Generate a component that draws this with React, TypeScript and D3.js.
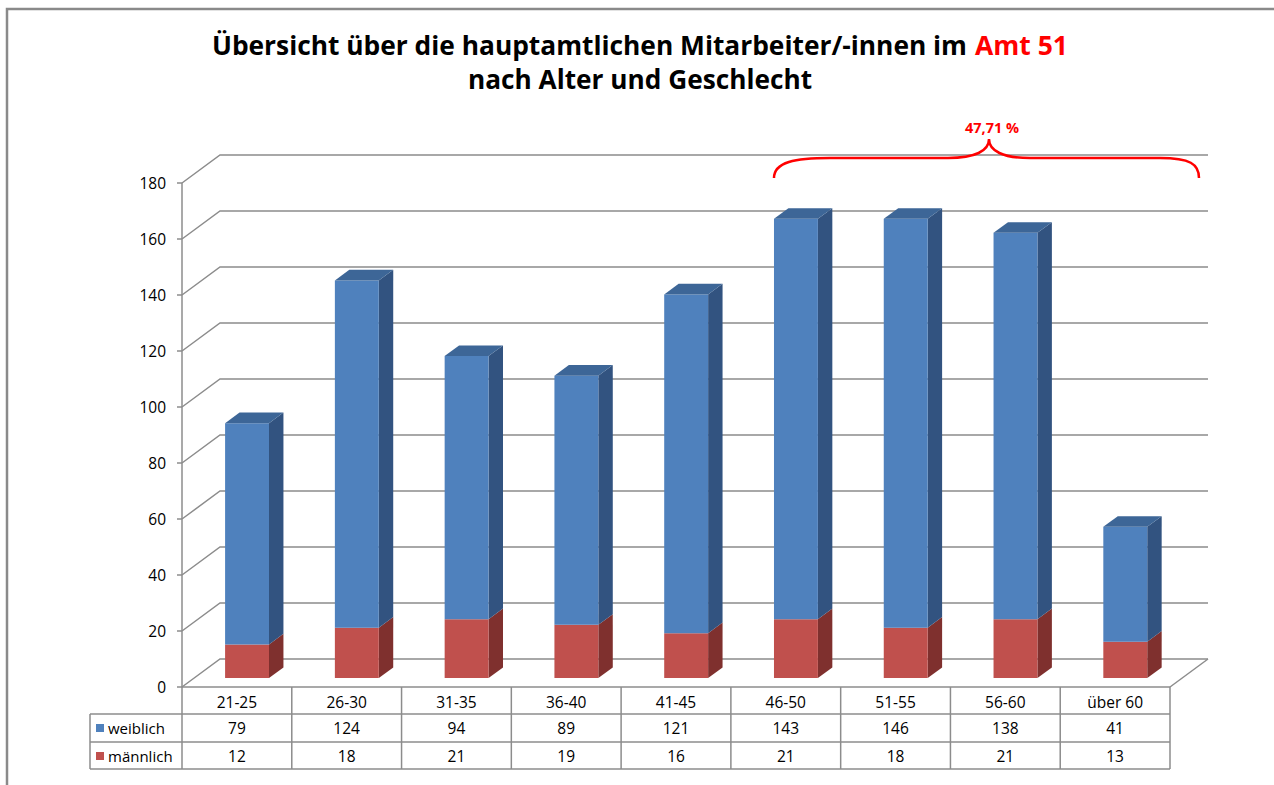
import { useLayoutEffect, useRef, useState } from 'react';
import * as d3 from 'd3';

const categories = ['21-25', '26-30', '31-35', '36-40', '41-45', '46-50', '51-55', '56-60', 'über 60'];
const weiblich = [79, 124, 94, 89, 121, 143, 146, 138, 41];
const maennlich = [12, 18, 21, 19, 16, 21, 18, 21, 13];
const yTicks = [0, 20, 40, 60, 80, 100, 120, 140, 160, 180];
const seriesNames = ['männlich', 'weiblich'];
const bracketLabel = '47,71 %';

const W = 1274;
const H = 785;
const font = '"Open Sans", "Liberation Sans", sans-serif';
const gridColor = '#8c8c8c';

// depth vector of the 3D box (full depth)
const DX = 38;
const DY = -28;
const zFront = 0.32;
const zBack = 0.7;

const colors = {
  männlich: { front: '#c0504d', side: '#7f302e', top: '#9a3d3a' },
  weiblich: { front: '#4f81bd', side: '#325380', top: '#3d6697' },
};

// title pieces: text, left x, baseline, target width, colour
const titleParts = [
  { text: 'Übersicht über die hauptamtlichen Mitarbeiter/-innen im', x: 212, y: 55, w: 755, fill: '#000' },
  { text: 'Amt 51', x: 975, y: 55, w: 93, fill: '#ff0000' },
  { text: 'nach Alter und Geschlecht', x: 468, y: 89, w: 344, fill: '#000' },
];

function Title() {
  const refs = useRef<(SVGTextElement | null)[]>([]);
  const [scales, setScales] = useState<number[]>(titleParts.map(() => 0.8));

  useLayoutEffect(() => {
    setScales(titleParts.map((p, i) => {
      const el = refs.current[i];
      const len = el ? el.getComputedTextLength() : 0;
      return len > 0 ? p.w / len : 0.8;
    }));
  }, []);

  return (
    <g>
      {titleParts.map((p, i) => (
        <g key={p.text} transform={`translate(${p.x},${p.y}) scale(${scales[i]},1)`}>
          <text
            ref={el => { refs.current[i] = el; }}
            x={0}
            y={0}
            fontFamily={font}
            fontWeight="bold"
            fontSize={26}
            fill={p.fill}
          >
            {p.text}
          </text>
        </g>
      ))}
    </g>
  );
}

export default function App() {
  const x = d3.scaleBand().domain(categories).range([182, 1170]).paddingInner(0).paddingOuter(0);
  const y = d3.scaleLinear().domain([0, 180]).range([687, 183]);

  const proj = (px: number, v: number, z: number): [number, number] => [px + z * DX, y(v) + z * DY];
  const poly = (pts: [number, number][]) => pts.map(p => p.join(',')).join(' ');

  const rows = categories.map((c, i) => ({ cat: c, männlich: maennlich[i], weiblich: weiblich[i] }));
  const stack = d3.stack<any>().keys(seriesNames)(rows);

  const barW = x.bandwidth() * 0.4;

  const bars: JSX.Element[] = [];
  categories.forEach((c, i) => {
    const cx = (x(c) as number) + x.bandwidth() / 2 - 2;
    const x0 = cx - barW / 2;
    const x1 = cx + barW / 2;
    stack.forEach((s, si) => {
      const [v0, v1] = s[i];
      const col = colors[s.key as 'männlich' | 'weiblich'];
      const isTop = si === stack.length - 1;
      bars.push(
        <g key={c + s.key}>
          <polygon
            points={poly([proj(x1, v0, zFront), proj(x1, v0, zBack), proj(x1, v1, zBack), proj(x1, v1, zFront)])}
            fill={col.side}
          />
          <polygon
            points={poly([proj(x0, v0, zFront), proj(x1, v0, zFront), proj(x1, v1, zFront), proj(x0, v1, zFront)])}
            fill={col.front}
          />
          {isTop && (
            <polygon
              points={poly([proj(x0, v1, zFront), proj(x1, v1, zFront), proj(x1, v1, zBack), proj(x0, v1, zBack)])}
              fill={col.top}
            />
          )}
        </g>
      );
    });
  });

  const left = x.range()[0];
  const right = x.range()[1];
  const rowTop = 687;
  const rowH = [27, 28, 27];
  const r1 = rowTop + rowH[0];
  const r2 = r1 + rowH[1];
  const r3 = r2 + rowH[2];
  const legendLeft = 90;

  const tableRows = [
    { name: 'weiblich', values: weiblich, color: colors.weiblich.front, y0: r1, y1: r2 },
    { name: 'männlich', values: maennlich, color: colors.männlich.front, y0: r2, y1: r3 },
  ];

  return (
    <div style={{ position: 'fixed', left: 0, top: 0, background: '#fff' }}>
      <svg width={W} height={H} style={{ display: 'block' }}>
        <rect x={0} y={0} width={W} height={H} fill="#fff" />
        {/* outer frame */}
        <rect x={7} y={9} width={W + 20} height={H + 20} fill="none" stroke="#8a8a8a" strokeWidth={2.5} />

        <Title />

        {/* gridlines: diagonal on left wall + horizontal on back wall */}
        {yTicks.map(t => {
          const [fx, fy] = proj(left, t, 0);
          const [bx, by] = proj(left, t, 1);
          const [ex] = proj(right, t, 1);
          return (
            <g key={'g' + t}>
              <polyline points={poly([[fx, fy], [bx, by], [ex, by]])} fill="none" stroke={gridColor} strokeWidth={1.5} />
              <line x1={fx - 5} x2={fx} y1={fy} y2={fy} stroke={gridColor} strokeWidth={1.5} />
              <text x={fx - 16} y={fy + 5.5} textAnchor="end" fontFamily={font} fontSize={15.5} fill="#000">
                {t}
              </text>
            </g>
          );
        })}
        {/* right floor edge */}
        <line x1={right} y1={y(0)} x2={proj(right, 0, 1)[0]} y2={proj(right, 0, 1)[1]} stroke={gridColor} strokeWidth={1.5} />
        {/* front value axis */}
        <line x1={left} x2={left} y1={y(180)} y2={y(0)} stroke={gridColor} strokeWidth={1.5} />

        {bars}

        {/* data table */}
        <g stroke={gridColor} strokeWidth={1.5}>
          <line x1={left} x2={right} y1={rowTop} y2={rowTop} />
          <line x1={legendLeft} x2={right} y1={r1} y2={r1} />
          <line x1={legendLeft} x2={right} y1={r2} y2={r2} />
          <line x1={legendLeft} x2={right} y1={r3} y2={r3} />
          <line x1={legendLeft} x2={legendLeft} y1={r1} y2={r3} />
          {categories.map(c => (
            <line key={'v' + c} x1={x(c)} x2={x(c)} y1={rowTop} y2={r3} />
          ))}
          <line x1={right} x2={right} y1={rowTop} y2={r3} />
        </g>
        {categories.map(c => (
          <text
            key={'h' + c}
            x={(x(c) as number) + x.bandwidth() / 2}
            y={rowTop + 21}
            textAnchor="middle"
            fontFamily={font}
            fontSize={15.5}
            fill="#000"
          >
            {c}
          </text>
        ))}
        {tableRows.map(r => (
          <g key={r.name}>
            <rect x={96} y={r.y0 + 10} width={8} height={8} fill={r.color} />
            <text x={108} y={r.y0 + 20} fontFamily={font} fontSize={15} fill="#000">
              {r.name}
            </text>
            {r.values.map((v, i) => (
              <text
                key={i}
                x={(x(categories[i]) as number) + x.bandwidth() / 2}
                y={r.y0 + 20}
                textAnchor="middle"
                fontFamily={font}
                fontSize={15.5}
                fill="#000"
              >
                {v}
              </text>
            ))}
          </g>
        ))}

        {/* bracket over the last four groups */}
        <path
          d="M774,178 C774,162 795,158 830,158 L948,158 C975,158 989,151 989,139 C989,151 1003,158 1030,158 L1160,158 C1190,158 1199,164 1199,178"
          fill="none"
          stroke="#ff0000"
          strokeWidth={2.5}
        />
        <text x={992} y={133} textAnchor="middle" fontFamily={font} fontWeight="bold" fontSize={14.5} fill="#ff0000">
          {bracketLabel}
        </text>
      </svg>
    </div>
  );
}
